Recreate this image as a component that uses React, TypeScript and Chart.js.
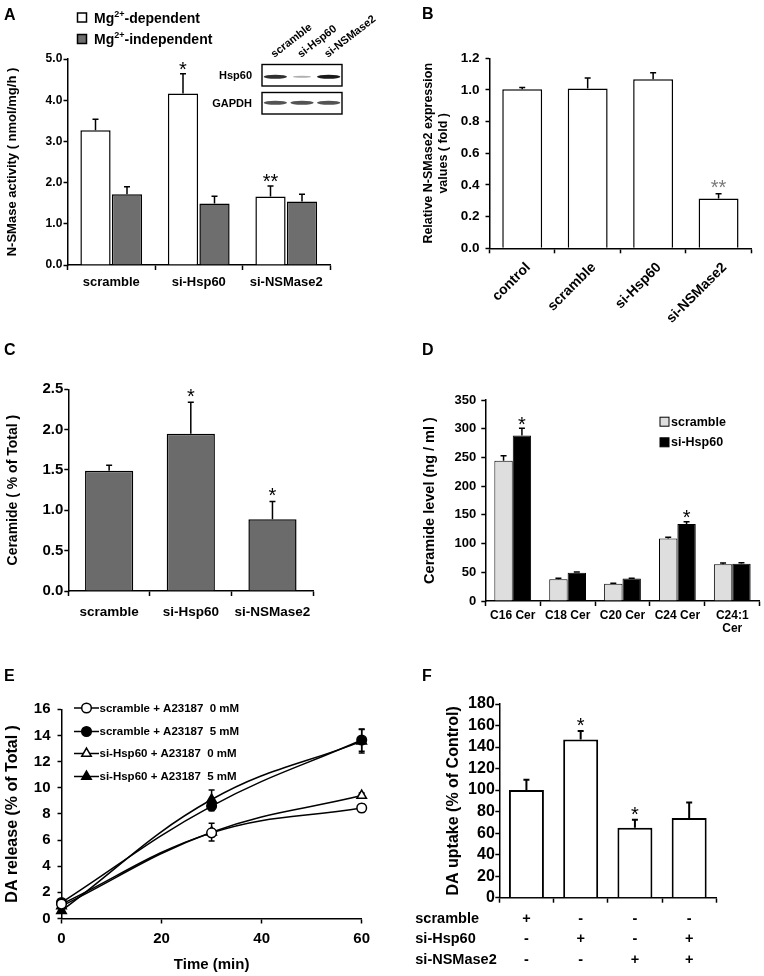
import React, { useEffect, useRef } from 'react';
import { Chart, registerables } from 'chart.js';

Chart.register(...registerables);
const FAMILY = "'Liberation Sans', Arial, Helvetica, sans-serif";
Chart.defaults.font.family = FAMILY;
Chart.defaults.color = '#000';

// ---------- Panel A ----------
const A_CATEGORIES = ['scramble', 'si-Hsp60', 'si-NSMase2'];
const A_DEP = [3.27, 4.16, 1.66];
const A_DEP_ERR = [0.27, 0.48, 0.26];
const A_DEP_STARS = ['', '*', '**'];
const A_INDEP = [1.72, 1.49, 1.54];
const A_INDEP_ERR = [0.18, 0.18, 0.18];
const A_Y_TICKS = [0, 1, 2, 3, 4, 5];
const A_BLOT_LANES = ['scramble', 'si-Hsp60', 'si-NSMase2'];
const A_BLOT_ROWS = ['Hsp60', 'GAPDH'];
const A_BLOT_HSP60 = [0.9, 0.35, 1.0];
const A_BLOT_GAPDH = [0.75, 0.75, 0.75];

// ---------- Panel B ----------
const B_CATEGORIES = ['control', 'scramble', 'si-Hsp60', 'si-NSMase2'];
const B_VALUES = [1.005, 1.01, 1.068, 0.315];
const B_ERR = [0.01, 0.065, 0.04, 0.03];
const B_STARS = ['', '', '', '**'];
const B_Y_TICKS = [0, 0.2, 0.4, 0.6, 0.8, 1.0, 1.2];

// ---------- Panel C ----------
const C_CATEGORIES = ['scramble', 'si-Hsp60', 'si-NSMase2'];
const C_VALUES = [1.49, 1.95, 0.89];
const C_ERR = [0.07, 0.39, 0.22];
const C_STARS = ['', '*', '*'];
const C_Y_TICKS = [0, 0.5, 1.0, 1.5, 2.0, 2.5];

// ---------- Panel D ----------
const D_CATEGORIES: (string | string[])[] = ['C16 Cer', 'C18 Cer', 'C20 Cer', 'C24 Cer', ['C24:1', 'Cer']];
const D_SCRAMBLE = [244, 38, 30, 109, 64];
const D_SCRAMBLE_ERR = [9, 1.5, 1, 2, 2];
const D_SIHSP60 = [288, 49, 39, 134, 65];
const D_SIHSP60_ERR = [13, 1.5, 0.5, 4, 1.5];
const D_SIHSP60_STARS = ['*', '', '', '*', ''];
const D_Y_TICKS = [0, 50, 100, 150, 200, 250, 300, 350];

// ---------- Panel E ----------
const E_TIMES = [0, 30, 60];
const E_SCR_0 = [1.1, 6.55, 8.45];
const E_SCR_0_ERR = [0.2, 0.3, 0.3];
const E_SCR_5 = [1.22, 8.6, 13.65];
const E_SCR_5_ERR = [0.2, 0.35, 0.85];
const E_SI_0 = [0.95, 6.6, 9.4];
const E_SI_0_ERR = [0.2, 0.68, 0.2];
const E_SI_5 = [0.6, 9.1, 13.55];
const E_SI_5_ERR = [0.2, 0.72, 0.9];
const E_LABELS = ['scramble + A23187  0 mM', 'scramble + A23187  5 mM', 'si-Hsp60 + A23187  0 mM', 'si-Hsp60 + A23187  5 mM'];
const E_X_TICKS = [0, 20, 40, 60];
const E_Y_TICKS = [0, 2, 4, 6, 8, 10, 12, 14, 16];

// ---------- Panel F ----------
const F_CATEGORIES = ['scramble', 'si-Hsp60', 'si-NSMase2', 'si-Hsp60 + si-NSMase2'];
const F_VALUES = [100, 147, 65, 74];
const F_ERR = [9.5, 8, 7.5, 14.5];
const F_STARS = ['', '*', '*', ''];
const F_Y_TICKS = [0, 20, 40, 60, 80, 100, 120, 140, 160, 180];
const F_ROW_LABELS = ['scramble', 'si-Hsp60', 'si-NSMase2'];
const F_ROW_SCRAMBLE = ['+', '-', '-', '-'];
const F_ROW_SIHSP60 = ['-', '+', '-', '+'];
const F_ROW_SINSMASE2 = ['-', '-', '+', '+'];

// ---------- helpers ----------
type Geo = { w: number; h: number; l: number; t: number; r: number; b: number };

function drawErrors(chart: any, phase: string) {
  const ctx = chart.ctx;
  const ys = chart.scales.y;
  chart.data.datasets.forEach((ds: any, i: number) => {
    if (!ds.errors) return;
    if ((ds.errorPhase || 'after') !== phase) return;
    const meta = chart.getDatasetMeta(i);
    ctx.save();
    ctx.strokeStyle = '#000';
    ctx.lineWidth = ds.errorWidth ?? 1.5;
    meta.data.forEach((el: any, j: number) => {
      const raw = ds.data[j];
      const v = typeof raw === 'number' ? raw : raw.y;
      const e = ds.errors[j];
      if (e == null || e <= 0) return;
      const x = el.x;
      const top = ys.getPixelForValue(v + e);
      const base = ds.errorBoth ? ys.getPixelForValue(v - e) : el.y;
      const cap = ds.errorCap ?? 3;
      ctx.beginPath();
      ctx.moveTo(x, base);
      ctx.lineTo(x, top);
      ctx.moveTo(x - cap, top);
      ctx.lineTo(x + cap, top);
      if (ds.errorBoth) {
        ctx.moveTo(x - cap, base);
        ctx.lineTo(x + cap, base);
      }
      ctx.stroke();
      const star = ds.stars ? ds.stars[j] : '';
      if (star) {
        const size = ds.starSize ?? 20;
        ctx.font = `${size}px ${FAMILY}`;
        ctx.fillStyle = ds.starColor ?? '#000';
        ctx.textAlign = 'center';
        ctx.textBaseline = 'alphabetic';
        const m = ctx.measureText(star);
        const center = top - (ds.starGap ?? 8.5);
        const baseline = center - (m.actualBoundingBoxDescent - m.actualBoundingBoxAscent) / 2;
        ctx.fillText(star, x, baseline);
      }
    });
    ctx.restore();
  });
}

const errorPlugin = {
  id: 'errorBarsAndStars',
  beforeDatasetsDraw(chart: any) { drawErrors(chart, 'before'); },
  afterDatasetsDraw(chart: any) { drawErrors(chart, 'after'); },
};

function letterPlugin(letter: string, x: number, y: number, extra?: (chart: any) => void) {
  return {
    id: 'extras' + letter,
    afterDraw(chart: any) {
      const ctx = chart.ctx;
      ctx.save();
      ctx.fillStyle = '#000';
      ctx.font = `bold 16px ${FAMILY}`;
      ctx.textAlign = 'left';
      ctx.textBaseline = 'alphabetic';
      ctx.fillText(letter, x, y);
      ctx.restore();
      if (extra) {
        ctx.save();
        extra(chart);
        ctx.restore();
      }
    },
  };
}

function yAxis(g: Geo, ticks: number[], decimals: number, size: number, tickLen: number, pad: number,
  title: string | string[], titleSize: number, titleCenter: number, titleLH = 1.2) {
  return {
    type: 'linear',
    min: ticks[0],
    max: ticks[ticks.length - 1],
    afterBuildTicks: (s: any) => { s.ticks = ticks.map((v) => ({ value: v })); },
    afterFit: (s: any) => { s.width = g.l; },
    ticks: {
      color: '#000',
      font: { size, weight: 'bold' },
      padding: pad,
      autoSkip: false,
      callback: (v: any) => Number(v).toFixed(decimals),
    },
    grid: { drawOnChartArea: false, drawTicks: true, tickLength: tickLen, tickColor: '#000', tickWidth: 1.5 },
    border: { display: true, color: '#000', width: 1.5 },
    title: {
      display: true,
      text: title,
      color: '#000',
      font: { size: titleSize, weight: 'bold', lineHeight: titleLH },
      padding: { top: titleCenter - (titleSize * titleLH) / 2, bottom: 0 },
    },
  };
}

function xCat(g: Geo, size: number, tickLen: number, pad: number, extra: any = {}) {
  return {
    type: 'category',
    afterFit: (s: any) => { s.height = g.h - g.b; },
    ticks: {
      color: '#000',
      font: { size, weight: 'bold', lineHeight: extra.lineHeight ?? 1.2 },
      padding: pad,
      autoSkip: false,
      labelOffset: extra.labelOffset ?? 0,
      maxRotation: extra.rotation ?? 0,
      minRotation: extra.rotation ?? 0,
      display: extra.display ?? true,
    },
    grid: { drawOnChartArea: false, drawTicks: true, tickLength: tickLen, tickColor: '#000', tickWidth: 1.5, offset: true },
    border: { display: true, color: '#000', width: 1.5 },
  };
}

function baseOptions(g: Geo, scales: any) {
  return {
    animation: false,
    responsive: false,
    devicePixelRatio: 1,
    events: [],
    layout: { padding: { left: 0, top: g.t, right: g.w - g.r, bottom: 0 } },
    plugins: { legend: { display: false }, tooltip: { enabled: false } },
    scales,
  };
}

function drawMarker(ctx: any, style: string, x: number, y: number, r: number, fill: string) {
  ctx.beginPath();
  if (style === 'triangle') {
    let rad = 0;
    ctx.moveTo(x + Math.sin(rad) * r, y - Math.cos(rad) * r);
    rad += (2 * Math.PI) / 3;
    ctx.lineTo(x + Math.sin(rad) * r, y - Math.cos(rad) * r);
    rad += (2 * Math.PI) / 3;
    ctx.lineTo(x + Math.sin(rad) * r, y - Math.cos(rad) * r);
    ctx.closePath();
  } else {
    ctx.arc(x, y, r, 0, Math.PI * 2);
  }
  ctx.fillStyle = fill;
  ctx.fill();
  ctx.lineWidth = 1.5;
  ctx.strokeStyle = '#000';
  ctx.stroke();
}

// ---------- chart configs ----------
const GEO_A: Geo = { w: 382, h: 330, l: 67.5, t: 59, r: 330, b: 265 };
function makeA() {
  const g = GEO_A;
  const extra = (chart: any) => {
    const ctx = chart.ctx;
    const rows = [
      { y: 17.5, fill: '#ffffff', text: '-dependent' },
      { y: 39, fill: '#6e6e6e', text: '-independent' },
    ];
    rows.forEach((r) => {
      ctx.fillStyle = r.fill;
      ctx.fillRect(77.5, r.y - 4.5, 9, 9);
      ctx.strokeStyle = '#000';
      ctx.lineWidth = 1.5;
      ctx.strokeRect(77.5, r.y - 4.5, 9, 9);
      ctx.fillStyle = '#000';
      ctx.textAlign = 'left';
      ctx.textBaseline = 'alphabetic';
      ctx.font = `bold 14px ${FAMILY}`;
      let x = 94;
      ctx.fillText('Mg', x, r.y + 5);
      x += ctx.measureText('Mg').width;
      ctx.font = `bold 9px ${FAMILY}`;
      ctx.fillText('2+', x, r.y - 1);
      x += ctx.measureText('2+').width;
      ctx.font = `bold 14px ${FAMILY}`;
      ctx.fillText(r.text, x, r.y + 5);
    });
    // western blot inset
    const L = 262, R = 342;
    const laneW = (R - L) / 3;
    const blotRows = [
      { label: A_BLOT_ROWS[0], top: 64.5, h: 21.5, bands: A_BLOT_HSP60, dy: 1.5 },
      { label: A_BLOT_ROWS[1], top: 92.5, h: 21.5, bands: A_BLOT_GAPDH, dy: -0.5 },
    ];
    blotRows.forEach((row) => {
      ctx.fillStyle = '#fff';
      ctx.fillRect(L, row.top, R - L, row.h);
      row.bands.forEach((a, k) => {
        const cx = L + laneW * (k + 0.5);
        const cy = row.top + row.h / 2 + row.dy;
        ctx.save();
        ctx.filter = 'blur(0.7px)';
        ctx.fillStyle = `rgba(25,25,25,${a})`;
        ctx.beginPath();
        const hw = a < 0.5 ? laneW * 0.34 : laneW * 0.44;
        const hh = a < 0.5 ? 1.1 : 2;
        ctx.ellipse(cx, cy, hw, hh, 0, 0, Math.PI * 2);
        ctx.fill();
        ctx.restore();
      });
      ctx.strokeStyle = '#000';
      ctx.lineWidth = 1.4;
      ctx.strokeRect(L, row.top, R - L, row.h);
      ctx.fillStyle = '#000';
      ctx.font = `bold 11px ${FAMILY}`;
      ctx.textAlign = 'right';
      ctx.textBaseline = 'middle';
      ctx.fillText(row.label, 252, row.top + row.h / 2 + 1);
    });
    A_BLOT_LANES.forEach((lab, k) => {
      const cx = L + laneW * (k + 0.5);
      ctx.save();
      ctx.translate(cx - 1, 58);
      ctx.rotate(-0.66);
      ctx.font = `bold 11px ${FAMILY}`;
      ctx.textAlign = 'left';
      ctx.textBaseline = 'alphabetic';
      ctx.fillStyle = '#000';
      ctx.fillText(lab, 0, 0);
      ctx.restore();
    });
  };
  return {
    type: 'bar',
    data: {
      labels: A_CATEGORIES,
      datasets: [
        { label: 'Mg2+-dependent', data: A_DEP, backgroundColor: '#ffffff', borderColor: '#000', borderWidth: 1.5,
          categoryPercentage: 0.72, barPercentage: 0.96, errors: A_DEP_ERR, stars: A_DEP_STARS, starSize: 20, starGap: 8 },
        { label: 'Mg2+-independent', data: A_INDEP, backgroundColor: '#6e6e6e', borderColor: '#000', borderWidth: 1.5,
          categoryPercentage: 0.72, barPercentage: 0.96, errors: A_INDEP_ERR },
      ],
    },
    options: baseOptions(g, {
      x: xCat(g, 13, 5, 5),
      y: yAxis(g, A_Y_TICKS, 1, 12, 4, 1.2, 'N-SMase activity ( nmol/mg/h )', 13, 12.5),
    }),
    plugins: [errorPlugin, letterPlugin('A', 4, 20, extra)],
  };
}

const GEO_B: Geo = { w: 382, h: 330, l: 107.5, t: 58.3, r: 369.3, b: 248.3 };
function makeB() {
  const g = GEO_B;
  return {
    type: 'bar',
    data: {
      labels: B_CATEGORIES,
      datasets: [
        { label: 'N-SMase2', data: B_VALUES, backgroundColor: '#ffffff', borderColor: '#000', borderWidth: 1.5,
          categoryPercentage: 0.61, barPercentage: 1, errors: B_ERR, stars: B_STARS, starColor: '#7a7a7a', starSize: 20, starGap: 10 },
      ],
    },
    options: baseOptions(g, {
      x: xCat(g, 14, 5, 6, { rotation: 45, labelOffset: 6 }),
      y: yAxis(g, B_Y_TICKS, 1, 13.5, 4, 6, ['Relative N-SMase2 expression', 'values ( fold )'], 12.5, 46.7, 1.2),
    }),
    plugins: [errorPlugin, letterPlugin('B', 40, 19)],
  };
}

const GEO_C: Geo = { w: 382, h: 330, l: 68.3, t: 59.3, r: 313.3, b: 261 };
function makeC() {
  const g = GEO_C;
  return {
    type: 'bar',
    data: {
      labels: C_CATEGORIES,
      datasets: [
        { label: 'Ceramide', data: C_VALUES, backgroundColor: '#6b6b6b', borderColor: '#000', borderWidth: 1.5,
          categoryPercentage: 0.59, barPercentage: 1, errors: C_ERR, stars: C_STARS, starSize: 20, starGap: 9 },
      ],
    },
    options: baseOptions(g, {
      x: xCat(g, 13.5, 5, 8.6),
      y: yAxis(g, C_Y_TICKS, 1, 15, 4, 1, 'Ceramide ( % of Total )', 14, 13),
    }),
    plugins: [errorPlugin, letterPlugin('C', 4, 25)],
  };
}

const GEO_D: Geo = { w: 382, h: 330, l: 103.3, t: 70, r: 377.7, b: 271 };
function makeD() {
  const g = GEO_D;
  const extra = (chart: any) => {
    const ctx = chart.ctx;
    chart.data.datasets.forEach((ds: any, i: number) => {
      const y = i === 0 ? 91.7 : 112.3;
      ctx.fillStyle = ds.backgroundColor;
      ctx.fillRect(278, y - 4.5, 9, 9);
      ctx.strokeStyle = '#000';
      ctx.lineWidth = 1;
      ctx.strokeRect(278, y - 4.5, 9, 9);
      ctx.fillStyle = '#000';
      ctx.font = `bold 12.5px ${FAMILY}`;
      ctx.textAlign = 'left';
      ctx.textBaseline = 'middle';
      ctx.fillText(ds.label, 289, y + 0.5);
    });
  };
  return {
    type: 'bar',
    data: {
      labels: D_CATEGORIES,
      datasets: [
        { label: 'scramble', data: D_SCRAMBLE, backgroundColor: '#dedede', borderColor: '#000', borderWidth: 1,
          categoryPercentage: 0.67, barPercentage: 1, errors: D_SCRAMBLE_ERR },
        { label: 'si-Hsp60', data: D_SIHSP60, backgroundColor: '#000000', borderColor: '#000', borderWidth: 1,
          categoryPercentage: 0.67, barPercentage: 1, errors: D_SIHSP60_ERR, stars: D_SIHSP60_STARS, starSize: 20, starGap: 7.5 },
      ],
    },
    options: baseOptions(g, {
      x: xCat(g, 12, 5, 3.4, { lineHeight: 1.05 }),
      y: yAxis(g, D_Y_TICKS, 0, 13, 4, 5, 'Ceramide level (ng / ml )', 14.5, 48.3),
    }),
    plugins: [errorPlugin, letterPlugin('D', 40, 25, extra)],
  };
}

const GEO_E: Geo = { w: 382, h: 316, l: 61.5, t: 49.3, r: 361.7, b: 258.5 };
function makeE() {
  const g = GEO_E;
  const series = [
    { values: E_SCR_0, err: E_SCR_0_ERR, style: 'circle', fill: '#ffffff' },
    { values: E_SCR_5, err: E_SCR_5_ERR, style: 'circle', fill: '#000000' },
    { values: E_SI_0, err: E_SI_0_ERR, style: 'triangle', fill: '#ffffff' },
    { values: E_SI_5, err: E_SI_5_ERR, style: 'triangle', fill: '#000000' },
  ];
  const legendY = [48, 71.5, 93.5, 116.5];
  const extra = (chart: any) => {
    const ctx = chart.ctx;
    chart.data.datasets.forEach((ds: any, i: number) => {
      const y = legendY[i];
      ctx.strokeStyle = '#000';
      ctx.lineWidth = 1.5;
      ctx.beginPath();
      ctx.moveTo(74, y);
      ctx.lineTo(99, y);
      ctx.stroke();
      drawMarker(ctx, ds.pointStyle, 86.5, y, ds.pointStyle === 'triangle' ? 5.5 : 4.8, ds.pointBackgroundColor);
      ctx.fillStyle = '#000';
      ctx.font = `bold 11.5px ${FAMILY}`;
      ctx.textAlign = 'left';
      ctx.textBaseline = 'middle';
      ctx.fillText(ds.label, 99.5, y + 0.5);
    });
  };
  const x = {
    type: 'linear',
    min: E_X_TICKS[0],
    max: E_X_TICKS[E_X_TICKS.length - 1],
    afterBuildTicks: (s: any) => { s.ticks = E_X_TICKS.map((v) => ({ value: v })); },
    afterFit: (s: any) => { s.height = g.h - g.b; },
    ticks: { color: '#000', font: { size: 15, weight: 'bold' }, padding: 6, autoSkip: false },
    grid: { drawOnChartArea: false, drawTicks: true, tickLength: 5, tickColor: '#000', tickWidth: 1.5 },
    border: { display: true, color: '#000', width: 1.5 },
    title: { display: true, text: 'Time (min)', color: '#000', font: { size: 15, weight: 'bold', lineHeight: 1.2 }, padding: { top: 0, bottom: 2 } },
  };
  return {
    type: 'line',
    data: {
      datasets: series.map((s, i) => ({
        label: E_LABELS[i],
        data: E_TIMES.map((t, k) => ({ x: t, y: s.values[k] })),
        borderColor: '#000',
        borderWidth: 1.5,
        tension: 0.4,
        pointStyle: s.style,
        pointRadius: s.style === 'triangle' ? 5.5 : 4.8,
        pointBackgroundColor: s.fill,
        pointBorderColor: '#000',
        pointBorderWidth: 1.5,
        clip: false,
        errors: s.err,
        errorBoth: true,
        errorPhase: 'before',
        errorCap: 3,
      })),
    },
    options: baseOptions(g, {
      x,
      y: yAxis(g, E_Y_TICKS, 0, 15, 4, 7, 'DA release (% of Total )', 16, 13),
    }),
    plugins: [errorPlugin, letterPlugin('E', 4, 20.7, extra)],
  };
}

const GEO_F: Geo = { w: 382, h: 316, l: 117.3, t: 44, r: 334.3, b: 237.7 };
function makeF() {
  const g = GEO_F;
  const rows = [F_ROW_SCRAMBLE, F_ROW_SIHSP60, F_ROW_SINSMASE2];
  const rowY = [259.3, 279.3, 300];
  const extra = (chart: any) => {
    const ctx = chart.ctx;
    const xs = chart.scales.x;
    ctx.fillStyle = '#000';
    ctx.font = `bold 14.5px ${FAMILY}`;
    ctx.textBaseline = 'middle';
    rows.forEach((signs, r) => {
      ctx.textAlign = 'left';
      ctx.fillText(F_ROW_LABELS[r], 33.3, rowY[r]);
      ctx.textAlign = 'center';
      signs.forEach((s, j) => ctx.fillText(s, xs.getPixelForValue(j), rowY[r]));
    });
  };
  return {
    type: 'bar',
    data: {
      labels: F_CATEGORIES,
      datasets: [
        { label: 'DA uptake', data: F_VALUES, backgroundColor: '#ffffff', borderColor: '#000', borderWidth: 2,
          categoryPercentage: 0.645, barPercentage: 1, errors: F_ERR, errorWidth: 2, stars: F_STARS, starSize: 20, starGap: 9 },
      ],
    },
    options: baseOptions(g, {
      x: xCat(g, 14, 5, 5, { display: false }),
      y: yAxis(g, F_Y_TICKS, 0, 16, 4, 0.5, 'DA uptake (% of Control)', 16, 71.7),
    }),
    plugins: [errorPlugin, letterPlugin('F', 40, 20.7, extra)],
  };
}

// ---------- components ----------
function Panel({ x, y, geo, make }: { x: number; y: number; geo: Geo; make: () => any }) {
  const ref = useRef<HTMLCanvasElement>(null);
  useEffect(() => {
    const chart = new Chart(ref.current as HTMLCanvasElement, make());
    return () => chart.destroy();
  }, []);
  return (
    <canvas
      ref={ref}
      width={geo.w}
      height={geo.h}
      style={{ position: 'absolute', left: x, top: y, width: geo.w, height: geo.h, display: 'block' }}
    />
  );
}

export default function App() {
  return (
    <div style={{ position: 'absolute', left: 0, top: 0, width: 764, height: 976, background: '#ffffff', overflow: 'hidden' }}>
      <Panel x={0} y={0} geo={GEO_A} make={makeA} />
      <Panel x={382} y={0} geo={GEO_B} make={makeB} />
      <Panel x={0} y={330} geo={GEO_C} make={makeC} />
      <Panel x={382} y={330} geo={GEO_D} make={makeD} />
      <Panel x={0} y={660} geo={GEO_E} make={makeE} />
      <Panel x={382} y={660} geo={GEO_F} make={makeF} />
    </div>
  );
}
